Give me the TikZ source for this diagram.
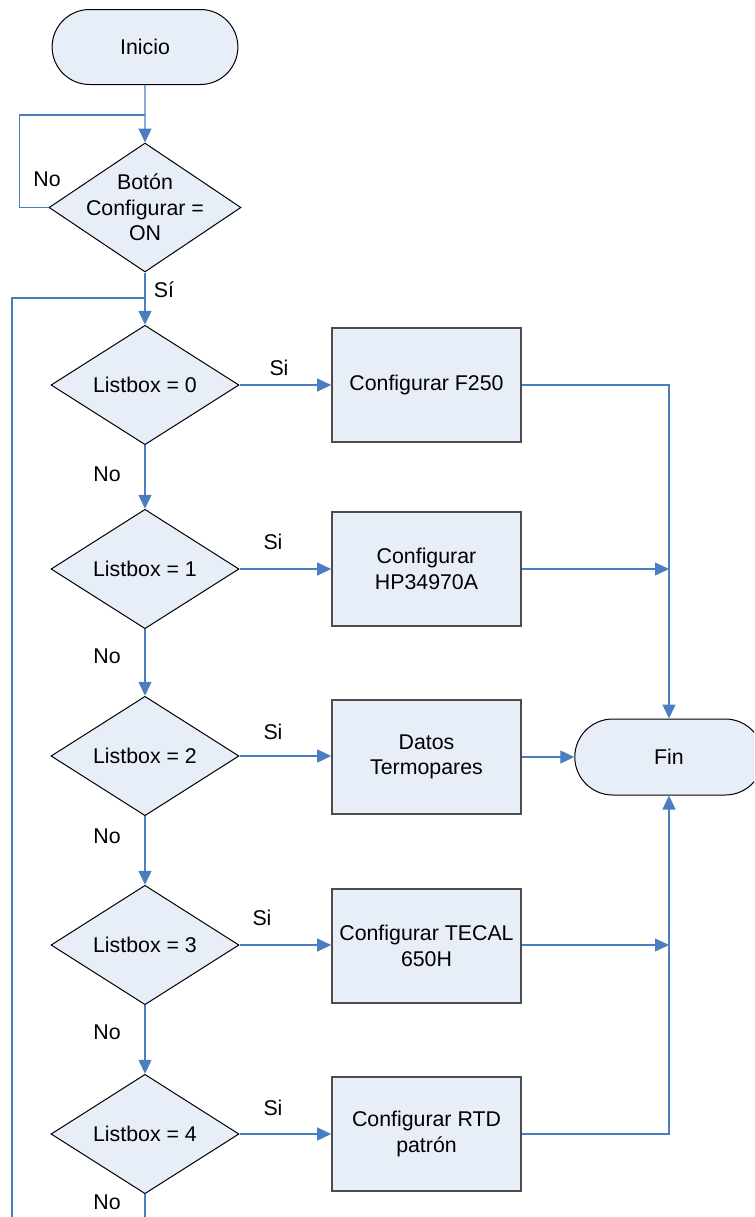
\documentclass[tikz,border=0pt]{standalone}
\usepackage{fontspec}
\setmainfont{Liberation Sans}
\usetikzlibrary{shapes.geometric,shapes.misc,arrows.meta}
\definecolor{flowblue}{RGB}{74,126,193}
\definecolor{boxfill}{RGB}{232,238,247}
\begin{document}
\begin{tikzpicture}[x=0.75pt, y=-0.75pt,
        font=\fontsize{16}{19}\selectfont,
        >={Triangle[length=10.5pt,width=9.75pt]},
        term/.style={rounded rectangle, draw=black, fill=boxfill, line width=0.75pt,
            minimum width=146pt, minimum height=56.25pt},
        decision/.style={diamond, draw=black, fill=boxfill, line width=0.75pt,
            minimum width=141pt, minimum height=84.75pt, inner sep=0pt},
        process/.style={rectangle, draw=black!70, fill=boxfill, line width=1.2pt,
            minimum width=141.75pt, minimum height=85.5pt, align=center},
        line/.style={draw=flowblue, line width=1pt},
        flow/.style={line, ->},
        lbl/.style={inner sep=0pt}]
        \clip (0,0) rectangle (754,1217);
        % Terminals
        \node[term] (inicio) at (145,47) {Inicio};
        \node[term, minimum width=148pt, minimum height=57pt] (fin) at (669,757) {Fin};
        % Button check
        \node[decision, minimum width=144pt, minimum height=96.75pt,
            label={[align=center]center:{Botón\\Configurar =\\ON}}] (boton) at (145,207.5) {};
        % Listbox decisions
        \node[decision] (d0) at (145,385) {Listbox = 0};
        \node[decision] (d1) at (145,569) {Listbox = 1};
        \node[decision] (d2) at (145,756) {Listbox = 2};
        \node[decision] (d3) at (145,945) {Listbox = 3};
        \node[decision] (d4) at (145,1134) {Listbox = 4};
        % Actions
        \node[process] (f250) at (426.5,385) {Configurar F250};
        \node[process] (hp) at (426.5,569) {Configurar\\HP34970A};
        \node[process] (datos) at (426.5,757) {Datos\\Termopares};
        \node[process] (tecal) at (426.5,946) {Configurar TECAL\\650H};
        \node[process] (rtd) at (426.5,1134) {Configurar RTD\\patrón};
        % Join points
        \coordinate (jtop) at (145,115);
        \coordinate (jsi) at (145,298);
        \coordinate (loopend) at (12,1217);
        \coordinate (noend) at (145,1217);
        % Start and wait loop
        \draw[flow] (inicio) -- (boton);
        \draw[line] (boton.west) -- ++(-29,0) |- (jtop);
        \draw[flow] (boton) -- (d0);
        \draw[line] (jsi) -| (loopend);
        % No branches
        \draw[flow] (d0) -- (d1);
        \draw[flow] (d1) -- (d2);
        \draw[flow] (d2) -- (d3);
        \draw[flow] (d3) -- (d4);
        \draw[line] (d4) -- (noend);
        % Si branches
        \draw[flow] (d0) -- (f250);
        \draw[flow] (d1) -- (hp);
        \draw[flow] (d2) -- (datos.west |- d2);
        \draw[flow] (d3) -- (tecal.west |- d3);
        \draw[flow] (d4) -- (rtd);
        % To end
        \draw[flow] (f250.east) -| (fin.north);
        \draw[flow] (hp.east) -- (hp.east -| fin.north);
        \draw[flow] (datos.east |- fin) -- (fin);
        \draw[flow] (tecal.east |- d3) -- (d3 -| fin.south);
        \draw[flow] (rtd.east) -| (fin.south);
        % Labels
        \node[lbl] (lno) at (47,179) {No};
        \node[lbl] (lsi) at (164,290) {Sí};
        \node[lbl] (si0) at (279,368) {Si};
        \node[lbl] (si1) at (273,542) {Si};
        \node[lbl] (si2) at (273,732) {Si};
        \node[lbl] (si3) at (262,918) {Si};
        \node[lbl] (si4) at (273,1108) {Si};
        \node[lbl] (no0) at (107,474) {No};
        \node[lbl] (no1) at (107,656) {No};
        \node[lbl] (no2) at (107,836) {No};
        \node[lbl] (no3) at (107,1032) {No};
        \node[lbl] (no4) at (107,1202) {No};
\end{tikzpicture}
\end{document}
